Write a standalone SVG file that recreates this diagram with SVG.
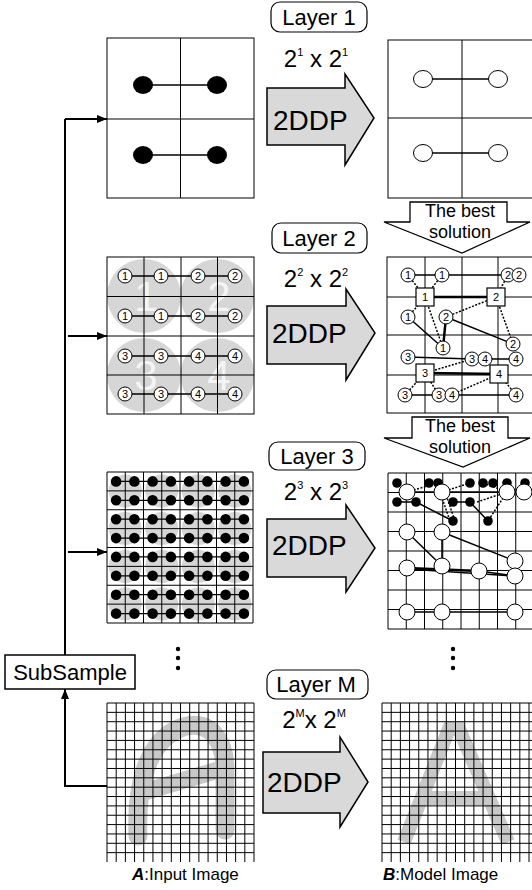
<svg xmlns="http://www.w3.org/2000/svg" width="532" height="890" viewBox="0 0 532 890">
<style>
text{font-family:"Liberation Sans",Arial,sans-serif;fill:#000}
.grid{fill:none;stroke:#000;stroke-width:1}
.gridt{fill:none;stroke:#000;stroke-width:1}
.lbl{fill:#fff;stroke:#000;stroke-width:1.2}
.lt{font-size:22px;text-anchor:middle}
.ex{font-size:24px;text-anchor:middle}
.dd{fill:#d9d9d9;stroke:#000;stroke-width:1.5}
.ddt{font-size:28px}
.best{fill:#fff;stroke:#000;stroke-width:1.3}
.bt{font-size:18px;text-anchor:middle}
.cn circle{fill:#fff;stroke:#000;stroke-width:1}
.cn text{font-size:11px;text-anchor:middle}
.sq{fill:#fff;stroke:#000;stroke-width:1.2}
.ln{stroke:#000;stroke-width:1.5;fill:none}
.lk{stroke:#000;stroke-width:2.5;fill:none}
.dt{stroke:#000;stroke-width:1.5;stroke-dasharray:2 1.5;fill:none}
.wc{fill:#fff;stroke:#000;stroke-width:1}
.bd{fill:#000}
.gc{fill:#d6d6d6}
.bigd{font-size:42px;text-anchor:middle;fill:#fff;fill-opacity:0.75}
.conn{stroke:#000;stroke-width:2;fill:none}
</style>
<defs>
<marker id="ah" viewBox="0 0 10 8" refX="10" refY="4" markerWidth="11" markerHeight="8" markerUnits="userSpaceOnUse" orient="auto"><path d="M0 0L10 4L0 8z" fill="#000"/></marker>
<g id="dotrow">
<line x1="116.1" y1="0" x2="243.9" y2="0" stroke="#000" stroke-width="1.3"/>
<circle cx="116.1" cy="0" r="5.3"/><circle cx="134.4" cy="0" r="5.3"/><circle cx="152.6" cy="0" r="5.3"/><circle cx="170.9" cy="0" r="5.3"/><circle cx="189.1" cy="0" r="5.3"/><circle cx="207.4" cy="0" r="5.3"/><circle cx="225.6" cy="0" r="5.3"/><circle cx="243.9" cy="0" r="5.3"/>
</g>
<g id="gcrow" class="gc">
<circle cx="125.25" cy="0" r="16.5"/><circle cx="161.75" cy="0" r="16.5"/><circle cx="198.25" cy="0" r="16.5"/><circle cx="234.75" cy="0" r="16.5"/>
</g>
</defs>

<!-- Connectors -->
<g id="connectors">
<path class="conn" d="M65 655V119"/>
<path class="conn" d="M65 119H107" marker-end="url(#ah)"/>
<path class="conn" d="M68 336H107" marker-end="url(#ah)"/>
<path class="conn" d="M68 552H107" marker-end="url(#ah)"/>
<path class="conn" d="M107 786H65V689" marker-end="url(#ah)"/>
</g>

<!-- Layer 1 -->
<g id="layer1-label">
<rect class="lbl" x="271" y="2" width="96" height="30" rx="9"/>
<text class="lt" x="319" y="25">Layer 1</text>
<text class="ex" x="316" y="67">2<tspan dy="-11" font-size="11">1</tspan><tspan dy="11"> x 2</tspan><tspan dy="-11" font-size="11">1</tspan></text>
</g>
<g id="layer1-input">
<rect class="grid" x="107" y="38" width="147" height="160"/>
<path class="grid" d="M180.5 38V198M107 119H254"/>
<line class="ln" x1="143" y1="85" x2="217" y2="85"/>
<line class="ln" x1="143" y1="155" x2="217" y2="155"/>
<ellipse class="bd" cx="143" cy="85" rx="10" ry="9"/><ellipse class="bd" cx="217" cy="85" rx="10" ry="9"/>
<ellipse class="bd" cx="143" cy="155" rx="10" ry="9"/><ellipse class="bd" cx="217" cy="155" rx="10" ry="9"/>
</g>
<g id="layer1-2ddp">
<polygon class="dd" points="267,88 345,88 345,74 374,118 345,165 345,145 267,145"/>
<text class="ddt" x="273" y="130">2DDP</text>
</g>
<g id="layer1-output">
<rect class="grid" x="388" y="40" width="148" height="158"/>
<path class="grid" d="M462 40V198M388 118H536"/>
<line class="ln" x1="423" y1="79" x2="498" y2="79"/>
<line class="ln" x1="423" y1="153" x2="498" y2="153"/>
<ellipse class="wc" cx="423" cy="79" rx="9.5" ry="8.5"/><ellipse class="wc" cx="498" cy="79" rx="9.5" ry="8.5"/>
<ellipse class="wc" cx="423" cy="153" rx="9.5" ry="8.5"/><ellipse class="wc" cx="498" cy="153" rx="9.5" ry="8.5"/>
</g>
<g id="best1">
<polygon class="best" points="410,202 507,202 507,222 530,222 462,253 384,222 410,222"/>
<text class="bt" x="460" y="217">The best</text>
<text class="bt" x="460" y="238">solution</text>
</g>

<!-- Layer 2 -->
<g id="layer2-label">
<rect class="lbl" x="272" y="223" width="95" height="30" rx="9"/>
<text class="lt" x="319" y="246">Layer 2</text>
<text class="ex" x="316" y="287">2<tspan dy="-11" font-size="11">2</tspan><tspan dy="11"> x 2</tspan><tspan dy="-11" font-size="11">2</tspan></text>
</g>
<g id="layer2-input">
<g class="gc"><circle cx="144" cy="296" r="37"/><circle cx="217.5" cy="296" r="37"/><circle cx="144" cy="375" r="37"/><circle cx="217.5" cy="375" r="37"/></g>
<text class="bigd" x="146" y="311">1</text><text class="bigd" x="219" y="311">2</text>
<text class="bigd" x="146" y="390">3</text><text class="bigd" x="219" y="390">4</text>
<rect class="grid" x="107" y="257" width="147" height="157"/>
<path class="grid" d="M144 257V414M181 257V414M217.5 257V414M107 296.5H254M107 336H254M107 375H254"/>
<path class="ln" d="M125 276H235M125 316H235M125 356H235M125 394H235"/>
<g class="cn">
<circle cx="125" cy="276" r="7"/><text x="125" y="280">1</text>
<circle cx="161" cy="276" r="7"/><text x="161" y="280">1</text>
<circle cx="198" cy="276" r="7"/><text x="198" y="280">2</text>
<circle cx="235" cy="276" r="7"/><text x="235" y="280">2</text>
<circle cx="125" cy="316" r="7"/><text x="125" y="320">1</text>
<circle cx="161" cy="316" r="7"/><text x="161" y="320">1</text>
<circle cx="198" cy="316" r="7"/><text x="198" y="320">2</text>
<circle cx="235" cy="316" r="7"/><text x="235" y="320">2</text>
<circle cx="125" cy="356" r="7"/><text x="125" y="360">3</text>
<circle cx="161" cy="356" r="7"/><text x="161" y="360">3</text>
<circle cx="198" cy="356" r="7"/><text x="198" y="360">4</text>
<circle cx="235" cy="356" r="7"/><text x="235" y="360">4</text>
<circle cx="125" cy="394" r="7"/><text x="125" y="398">3</text>
<circle cx="161" cy="394" r="7"/><text x="161" y="398">3</text>
<circle cx="198" cy="394" r="7"/><text x="198" y="398">4</text>
<circle cx="235" cy="394" r="7"/><text x="235" y="398">4</text>
</g>
</g>
<g id="layer2-2ddp">
<polygon class="dd" points="267,306 346,306 346,289 375,333 346,380 346,364 267,364"/>
<text class="ddt" x="272" y="343">2DDP</text>
</g>
<g id="layer2-output">
<rect class="grid" x="387" y="257" width="149" height="156"/>
<path class="grid" d="M425 257V413M462 257V413M498 257V413M387 297H536M387 335H536M387 375H536"/>
<path class="ln" d="M408 275H442M442 275H508M408 317L443 348M446 317L513 344M408 357L472 359M484 359H516M405 395H439M451 395H516"/>
<path class="lk" d="M446 317L443 348"/>
<path class="lk" d="M425 297H496M425 373L499 374"/>
<path class="dt" d="M408 275L425 297M442 275L425 297M508 275L496 297M425 297L408 317M425 297L443 348M446 317L496 297M496 297L513 344M425 373L472 359M425 373L405 395M425 373L439 395M451 395L499 374M499 374L516 395M499 374L484 359"/>
<rect class="sq" x="416" y="288" width="18" height="18"/><text x="425" y="301" font-size="11" text-anchor="middle">1</text>
<rect class="sq" x="487" y="288" width="18" height="18"/><text x="496" y="301" font-size="11" text-anchor="middle">2</text>
<rect class="sq" x="416" y="364" width="18" height="18"/><text x="425" y="377" font-size="11" text-anchor="middle">3</text>
<rect class="sq" x="490" y="365" width="18" height="18"/><text x="499" y="378" font-size="11" text-anchor="middle">4</text>
<g class="cn">
<circle cx="408" cy="275" r="7"/><text x="408" y="279">1</text>
<circle cx="442" cy="275" r="7"/><text x="442" y="279">1</text>
<circle cx="508" cy="275" r="7"/><text x="508" y="279">2</text>
<circle cx="519" cy="275" r="7"/><text x="519" y="279">2</text>
<circle cx="408" cy="317" r="7"/><text x="408" y="321">1</text>
<circle cx="446" cy="317" r="7"/><text x="446" y="321">2</text>
<circle cx="443" cy="348" r="7"/><text x="443" y="352">1</text>
<circle cx="513" cy="344" r="7"/><text x="513" y="348">2</text>
<circle cx="408" cy="357" r="7"/><text x="408" y="361">3</text>
<circle cx="472" cy="359" r="7"/><text x="472" y="363">3</text>
<circle cx="485" cy="359" r="7"/><text x="485" y="363">4</text>
<circle cx="516" cy="359" r="7"/><text x="516" y="363">4</text>
<circle cx="405" cy="395" r="7"/><text x="405" y="399">3</text>
<circle cx="439" cy="395" r="7"/><text x="439" y="399">3</text>
<circle cx="452" cy="395" r="7"/><text x="452" y="399">4</text>
<circle cx="516" cy="395" r="7"/><text x="516" y="399">4</text>
</g>
</g>
<g id="best2">
<polygon class="best" points="412,417 508,417 508,438 530,438 463,467 384,438 412,438"/>
<text class="bt" x="460" y="432">The best</text>
<text class="bt" x="460" y="453">solution</text>
</g>

<!-- Layer 3 -->
<g id="layer3-label">
<rect class="lbl" x="269" y="442" width="96" height="28" rx="9"/>
<text class="lt" x="317" y="464">Layer 3</text>
<text class="ex" x="316" y="500">2<tspan dy="-11" font-size="11">3</tspan><tspan dy="11"> x 2</tspan><tspan dy="-11" font-size="11">3</tspan></text>
</g>
<g id="layer3-input">
<use href="#gcrow" y="490.9"/><use href="#gcrow" y="528.6"/><use href="#gcrow" y="566.4"/><use href="#gcrow" y="604.1"/>
<path class="grid" d="M107 472v151M125.25 472v151M143.5 472v151M161.75 472v151M180 472v151M198.25 472v151M216.5 472v151M234.75 472v151M253 472v151M107 472h146M107 490.875h146M107 509.75h146M107 528.625h146M107 547.5h146M107 566.375h146M107 585.25h146M107 604.125h146M107 623h146"/>
<use href="#dotrow" y="481.4"/><use href="#dotrow" y="500.3"/><use href="#dotrow" y="519.2"/><use href="#dotrow" y="538.1"/><use href="#dotrow" y="556.9"/><use href="#dotrow" y="575.8"/><use href="#dotrow" y="594.7"/><use href="#dotrow" y="613.6"/>
</g>
<g id="layer3-2ddp">
<polygon class="dd" points="267,519 346,519 346,505 375,548 346,592 346,577 267,577"/>
<text class="ddt" x="272" y="555">2DDP</text>
</g>
<g id="layer3-output">
<path class="grid" d="M388 473v156M406.25 473v156M424.5 473v156M442.75 473v156M461 473v156M479.25 473v156M497.5 473v156M515.75 473v156M534 473v156M388 473h148M388 492.5h148M388 512h148M388 531.5h148M388 551h148M388 570.5h148M388 590h148M388 609.5h148M388 629h148"/>
<path class="ln" d="M407 492H507M397 502H416M453 502H470M416 502L453 521M470 502L488 521M407 532L442 566M442 532V566M442 532L515 561M479 571L515 576M407 612H515"/>
<path class="lk" d="M407 568L479 571" stroke-width="2"/>
<path class="ln" d="M407 569L515 576" stroke-width="1.2"/>
<path class="dt" d="M407 492L438 483M442 492L470 483M440 492L450 521M445 492L455 521M477 502L507 492M507 492L488 521M483 483L507 492"/>
<g class="bd">
<circle cx="397" cy="483" r="4.8"/><circle cx="429" cy="483" r="4.8"/><circle cx="438" cy="483" r="4.8"/><circle cx="470" cy="483" r="4.8"/><circle cx="483" cy="483" r="4.8"/><circle cx="493" cy="483" r="4.8"/><circle cx="507" cy="483" r="4.8"/><circle cx="525" cy="483" r="4.8"/>
<circle cx="397" cy="502" r="4.8"/><circle cx="416" cy="502" r="4.8"/><circle cx="453" cy="502" r="4.8"/><circle cx="470" cy="502" r="4.8"/>
<circle cx="453" cy="521" r="4.8"/><circle cx="488" cy="521" r="4.8"/>
</g>
<g class="wc">
<circle cx="407" cy="492" r="8"/><circle cx="442" cy="492" r="8"/><circle cx="507" cy="492" r="8"/><circle cx="524" cy="492" r="8"/>
<circle cx="407" cy="532" r="8"/><circle cx="442" cy="532" r="8"/>
<circle cx="515" cy="561" r="8"/><circle cx="407" cy="568" r="8"/><circle cx="442" cy="566" r="8"/><circle cx="479" cy="571" r="8"/><circle cx="515" cy="576" r="8"/>
<circle cx="407" cy="612" r="8"/><circle cx="442" cy="612" r="8"/><circle cx="515" cy="612" r="8"/>
</g>
</g>

<!-- ellipsis -->
<g id="dots-left" class="bd"><circle cx="178" cy="649" r="2.2"/><circle cx="178" cy="658" r="2.2"/><circle cx="178" cy="668" r="2.2"/></g>
<g id="dots-right" class="bd"><circle cx="453" cy="649" r="2.2"/><circle cx="453" cy="658" r="2.2"/><circle cx="453" cy="668" r="2.2"/></g>

<!-- SubSample -->
<g id="subsample">
<rect x="5" y="655" width="130" height="34" fill="#fff" stroke="#000" stroke-width="1.5"/>
<text x="70" y="680" font-size="22" text-anchor="middle">SubSample</text>
</g>

<!-- Layer M -->
<g id="layerM-label">
<rect class="lbl" x="267" y="670" width="101" height="29" rx="9"/>
<text class="lt" x="316" y="692">Layer M</text>
<text class="ex" x="314" y="728">2<tspan dy="-11" font-size="11">M</tspan><tspan dy="11">x 2</tspan><tspan dy="-11" font-size="11">M</tspan></text>
</g>
<g id="layerM-input">
<path d="M138 836C136 790 145 740 183 727C213 718 225 745 225 770L225 830" fill="none" stroke="#c8c8c8" stroke-width="19" stroke-linecap="round"/>
<path d="M144 792L218 770" fill="none" stroke="#c8c8c8" stroke-width="17" stroke-linecap="round"/>
<path class="gridt" d="M107 703v159m9.1875-159v159m9.1875-159v159m9.1875-159v159m9.1875-159v159m9.1875-159v159m9.1875-159v159m9.1875-159v159m9.1875-159v159m9.1875-159v159m9.1875-159v159m9.1875-159v159m9.1875-159v159m9.1875-159v159m9.1875-159v159m9.1875-159v159m9.1875-159v159M107 703h147m-147 9.353h147m-147 9.353h147m-147 9.353h147m-147 9.353h147m-147 9.353h147m-147 9.353h147m-147 9.353h147m-147 9.353h147m-147 9.353h147m-147 9.353h147m-147 9.353h147m-147 9.353h147m-147 9.353h147m-147 9.353h147m-147 9.353h147m-147 9.353h147"/>
</g>
<g id="layerM-2ddp">
<polygon class="dd" points="263,752 340,752 340,737 368,782 340,827 340,813 263,813"/>
<text class="ddt" x="267" y="792">2DDP</text>
</g>
<g id="layerM-output">
<path d="M404 842L449 729L459 729L508 842M423 798H487" fill="none" stroke="#c8c8c8" stroke-width="14" stroke-linejoin="miter"/>
<path class="gridt" d="M382 703v159m9.1875-159v159m9.1875-159v159m9.1875-159v159m9.1875-159v159m9.1875-159v159m9.1875-159v159m9.1875-159v159m9.1875-159v159m9.1875-159v159m9.1875-159v159m9.1875-159v159m9.1875-159v159m9.1875-159v159m9.1875-159v159m9.1875-159v159m9.1875-159v159M382 703h156m-156 9.353h156m-156 9.353h156m-156 9.353h156m-156 9.353h156m-156 9.353h156m-156 9.353h156m-156 9.353h156m-156 9.353h156m-156 9.353h156m-156 9.353h156m-156 9.353h156m-156 9.353h156m-156 9.353h156m-156 9.353h156m-156 9.353h156m-156 9.353h156"/>
</g>

<!-- captions -->
<g id="caption-a"><text x="132" y="880" font-size="17"><tspan font-weight="bold" font-style="italic">A</tspan>:Input Image</text></g>
<g id="caption-b"><text x="383" y="880" font-size="17"><tspan font-weight="bold" font-style="italic">B</tspan>:Model Image</text></g>
</svg>
